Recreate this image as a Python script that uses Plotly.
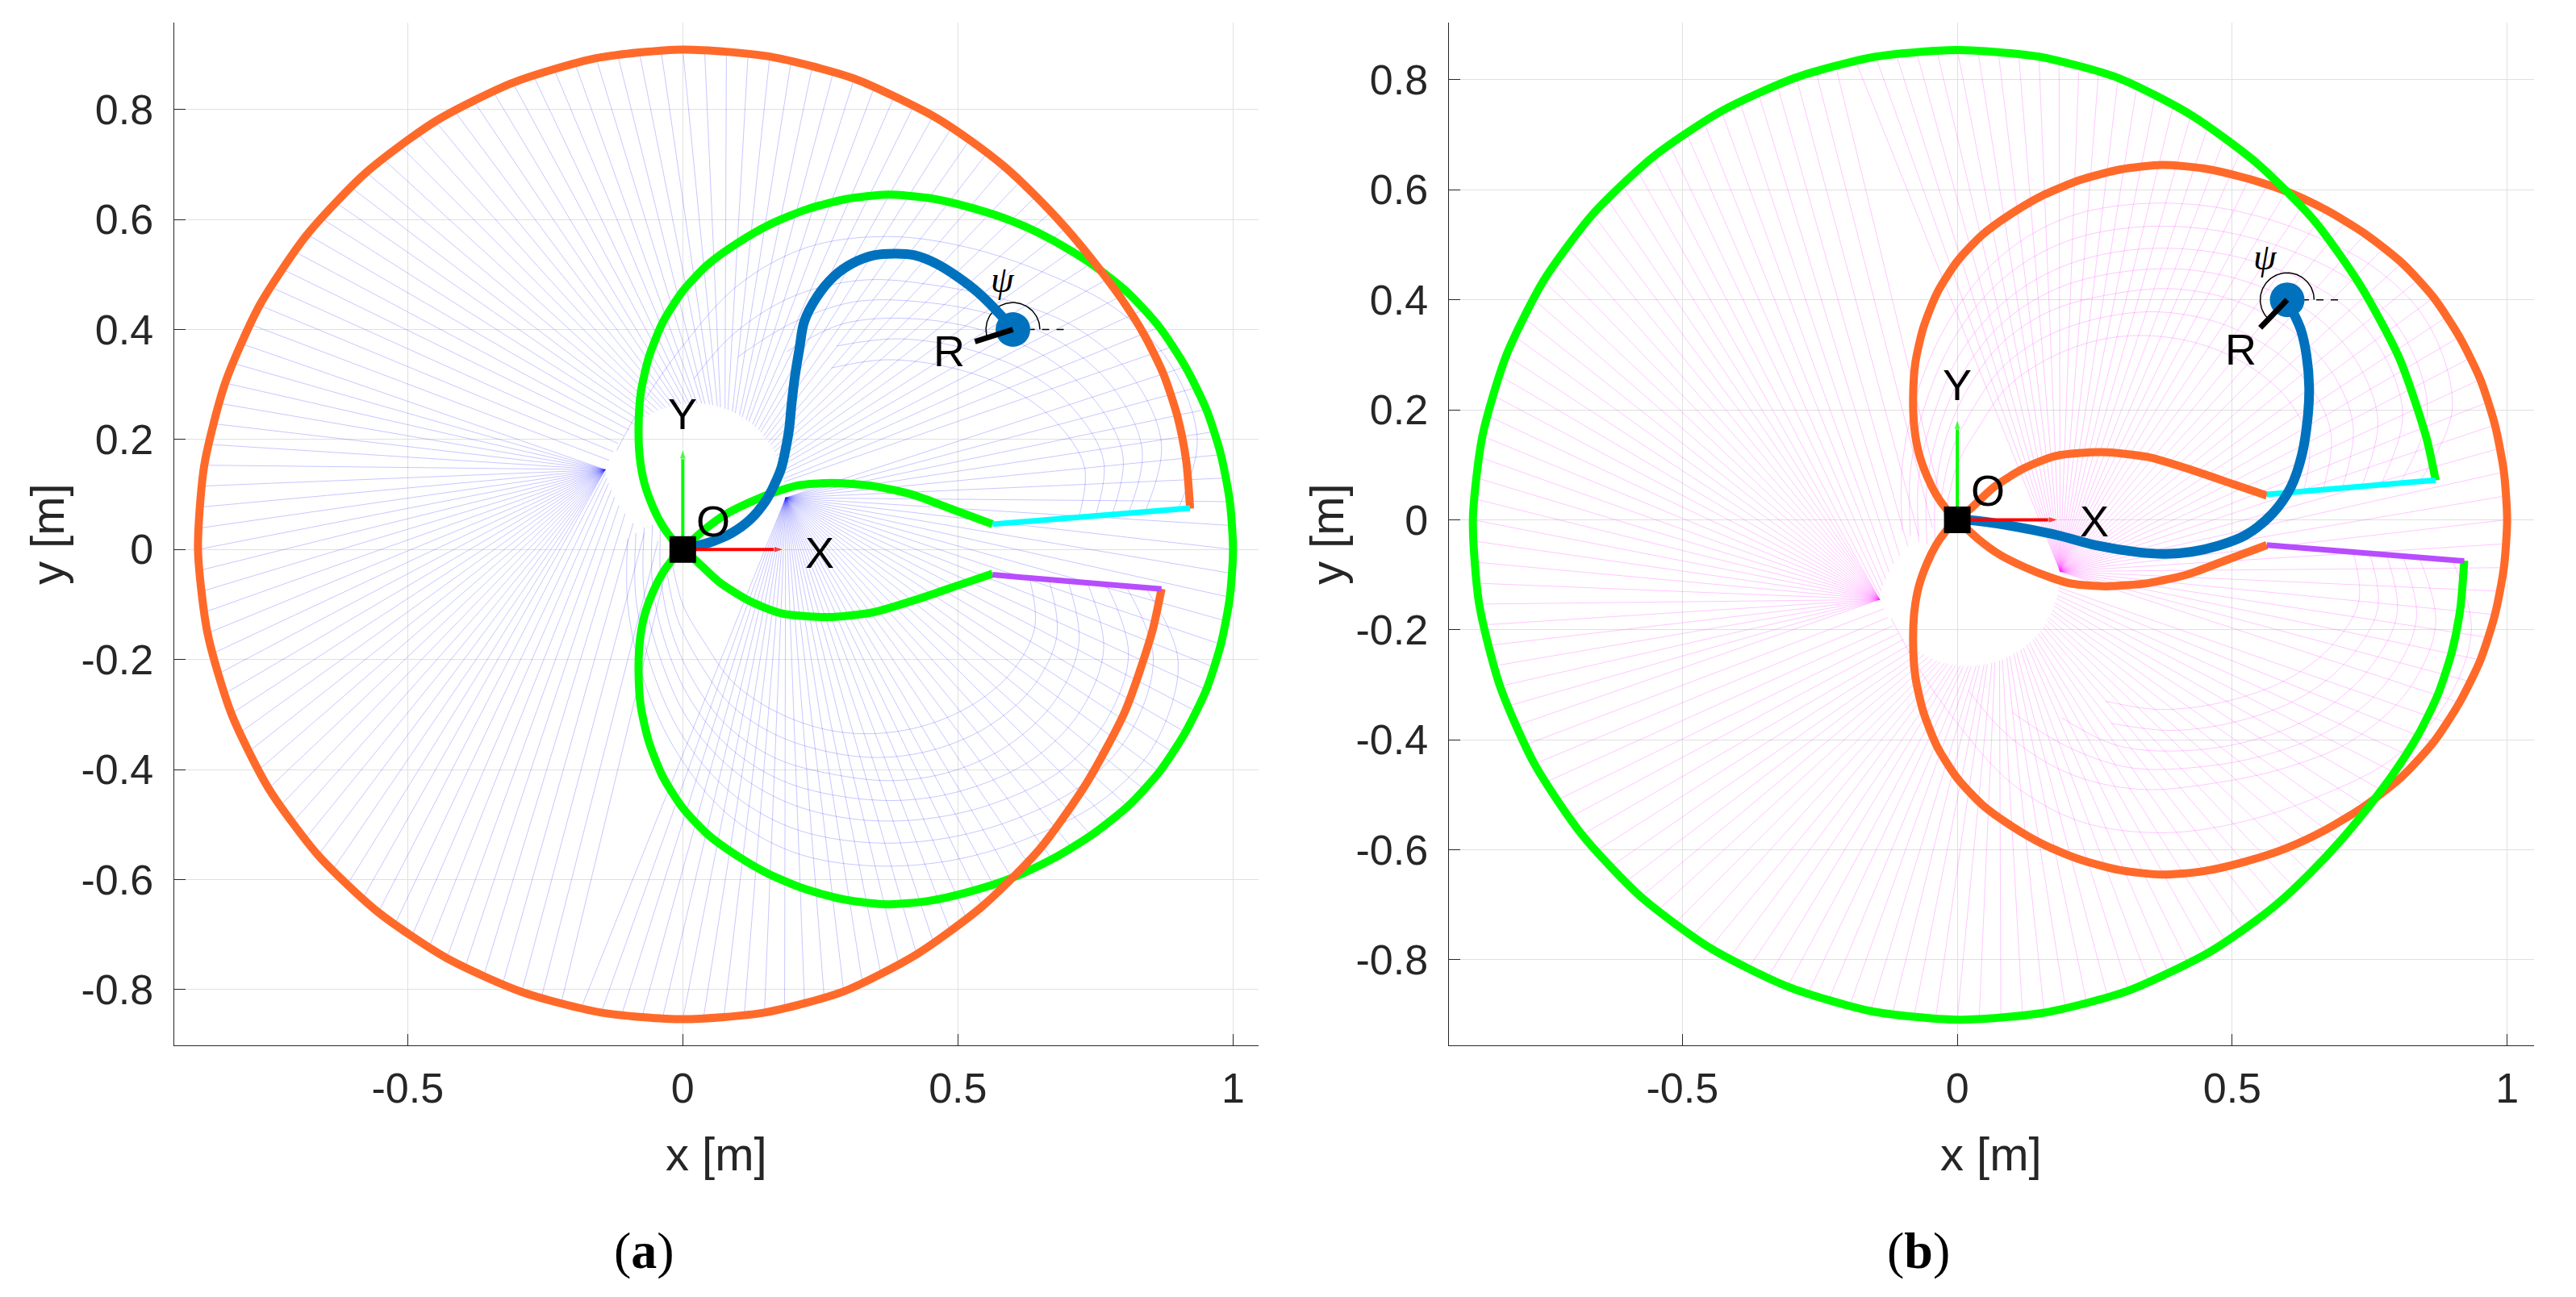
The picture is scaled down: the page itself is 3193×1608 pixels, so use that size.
import numpy as np
import plotly.graph_objects as go

W, H = 3193, 1608

# ---------------- panel (a): values ----------------
# outer (orange) boundary as read in polar form about the origin: angle [deg] and radius [m]
orange_a_deg = [4.6, 10, 15, 20, 25, 30, 35, 40, 45, 50, 55, 60, 70, 80, 90, 100, 110, 120, 130, 140,
                150, 160, 170, 180, 190, 200, 210, 220, 230, 240, 250, 260, 270, 280, 290, 300, 310, 320,
                330, 340, 350, 355.3]
orange_a_r = [.925, .929, .931, .930, .925, .918, .912, .909, .908, .909, .909, .910, .911, .910, .909,
              .907, .903, .899, .895, .891, .888, .885, .883, .881, .877, .873, .869, .865, .861, .858,
              .856, .855, .854, .855, .855, .850, .847, .847, .848, .856, .866, .873]

# green boundary: upper lobe (cyan junction -> origin), big loop (polar about origin), lower lobe
lobe_up_x = [0.563, 0.49, 0.42, 0.348, 0.27, 0.207, 0.167, 0.122, 0.078, 0.038, 0.0]
lobe_up_y = [0.046, 0.073, 0.099, 0.115, 0.121, 0.116, 0.104, 0.086, 0.064, 0.035, 0.0]
loop_deg = [-135, -130, -125, -120, -115, -110, -105, -100, -95, -90, -85, -80, -75, -70, -65, -60, -55,
            -50, -45, -40, -35, -30, -25, -20, -15, -10, -5, 0, 5, 10, 15, 20, 25, 30, 35, 40, 45, 50,
            55, 60, 65, 70, 75, 80, 85, 90, 95, 100, 105, 110, 115, 120, 125, 130, 135]
loop_r = [.03, .06, .095, .14, .185, .235, .295, .355, .415, .47, .52, .565, .612, .658, .703, .745, .78,
          .812, .845, .876, .906, .934, .956, .972, .985, .993, .998, 1.0, .998, .993, .985, .972, .956,
          .934, .906, .876, .845, .812, .78, .745, .703, .658, .612, .565, .52, .47, .415, .355, .295,
          .235, .185, .14, .095, .06, .03]
lobe_dn_x = [0.0, 0.024, 0.066, 0.122, 0.179, 0.263, 0.347, 0.431, 0.504, 0.563]
lobe_dn_y = [0.0, -0.020, -0.059, -0.094, -0.116, -0.123, -0.114, -0.089, -0.064, -0.044]

cyan_a_x = [0.563, 0.922]
cyan_a_y = [0.046, 0.075]
purple_a_x = [0.563, 0.870]
purple_a_y = [-0.046, -0.072]

# robot backbones
robot_a_x = [0.0, 0.021, 0.055, 0.089, 0.122, 0.151, 0.167, 0.179, 0.187, 0.193, 0.198, 0.204, 0.212,
             0.221, 0.245, 0.274, 0.308, 0.348, 0.387, 0.421, 0.460, 0.499, 0.538, 0.577, 0.600]
robot_a_y = [0.0, 0.005, 0.015, 0.030, 0.054, 0.089, 0.119, 0.148, 0.183, 0.217, 0.267, 0.316, 0.365,
             0.415, 0.461, 0.496, 0.520, 0.535, 0.538, 0.535, 0.520, 0.496, 0.466, 0.427, 0.400]
robot_b_x = [0.0, 0.025, 0.109, 0.182, 0.255, 0.329, 0.378, 0.427, 0.475, 0.524, 0.573, 0.607, 0.627,
             0.637, 0.640, 0.635, 0.625, 0.612, 0.600]
robot_b_y = [0.0, -0.001, -0.013, -0.028, -0.047, -0.059, -0.062, -0.058, -0.047, -0.028, 0.011, 0.060,
             0.119, 0.183, 0.24, 0.30, 0.345, 0.375, 0.400]

tip_xy = [0.6, 0.4]
r_end_a = [0.531, 0.378]
r_end_b = [0.551, 0.349]
psi_a_deg = 197.6
psi_b_deg = 226.0

# faint fan of straight rays (panel a), grouped by where they converge; each ends on the outer boundary
right_cusp = [0.187, 0.094]
ray_right_deg = [-45, -42.5, -40, -37.5, -35, -32.5, -30, -27.5, -25, -22.5, -20, -17.5, -15, -12.5, -10,
                 -7.5, -5, -2.5, 0, 2.5, 5, 7.5, 10, 12.5, 15, 17.5, 20,
                 257.5, 260, 262.5, 265, 267.5, 270, 272.5, 275, 277.5, 280, 282.5, 285, 287.5, 290,
                 292.5, 295, 297.5, 300, 302.5, 305, 307.5, 310, 312.5]
left_cusp = [-0.141, 0.145]
ray_left_deg = [155, 157.5, 160, 162.5, 165, 167.5, 170, 172.5, 175, 177.5, 180, 182.5, 185, 187.5, 190,
                192.5, 195, 197.5, 200, 202.5, 205, 207.5, 210, 212.5, 215, 217.5, 220, 222.5, 225, 227.5]
ray_low_deg = [230, 232.5, 235, 237.5, 240, 242.5, 245, 247.5, 250, 252.5, 255]
ray_low_inner_x = [-0.14, -0.138, -0.135, -0.13, -0.124, -0.116, -0.105, -0.09, -0.07, -0.045, -0.02]
ray_low_inner_y = [0.14, 0.13, 0.12, 0.108, 0.095, 0.08, 0.065, 0.048, 0.03, 0.015, 0.005]
hole_center = [0.02, 0.10]
hole_radius = 0.166
ray_top_deg = [22.5, 25, 27.5, 30, 32.5, 35, 37.5, 40, 42.5, 45, 47.5, 50, 52.5, 55, 57.5, 60, 62.5, 65,
               67.5, 70, 72.5, 75, 77.5, 80, 82.5, 85, 87.5, 90, 92.5, 95, 97.5, 100, 102.5, 105, 107.5,
               110, 112.5, 115, 117.5, 120, 122.5, 125, 127.5, 130, 132.5, 135, 137.5, 140, 142.5, 145,
               147.5, 150, 152.5]
ray_top_contact_deg = [8, 10, 13, 15, 18, 20, 23, 25, 28, 30, 33, 35, 38, 40, 43, 45, 48, 50, 53, 55, 58,
                       60, 63, 65, 68, 70, 73, 75, 78, 80, 83, 85, 88, 90, 93, 95, 98, 100, 103, 105, 108,
                       110, 113, 116, 119, 122, 126, 130, 135, 140, 146, 152, 158]

# faint nested arcs (panel a)
arc_a_curves = [
    ([0.90, 0.935, 0.885, 0.788, 0.665, 0.519, 0.372, 0.225, 0.10, 0.0, -0.07, -0.12],
     [0.073, 0.20, 0.339, 0.437, 0.50, 0.549, 0.569, 0.549, 0.48, 0.37, 0.27, 0.18]),
    ([0.84, 0.87, 0.82, 0.72, 0.60, 0.46, 0.33, 0.20, 0.09, 0.02],
     [0.068, 0.19, 0.31, 0.40, 0.45, 0.48, 0.49, 0.46, 0.39, 0.31]),
    ([0.81, 0.835, 0.785, 0.69, 0.57, 0.435, 0.31, 0.195, 0.1],
     [0.066, 0.18, 0.29, 0.375, 0.425, 0.45, 0.45, 0.41, 0.35]),
    ([0.78, 0.80, 0.75, 0.66, 0.54, 0.41, 0.29, 0.19],
     [0.063, 0.17, 0.27, 0.35, 0.40, 0.42, 0.41, 0.36]),
    ([0.75, 0.765, 0.715, 0.63, 0.515, 0.39, 0.28],
     [0.061, 0.16, 0.25, 0.32, 0.365, 0.383, 0.37]),
    ([0.72, 0.73, 0.68, 0.60, 0.49, 0.37, 0.27],
     [0.059, 0.15, 0.23, 0.29, 0.33, 0.345, 0.33]),
    ([0.84, 0.90, 0.86, 0.77, 0.64, 0.49, 0.34, 0.20, 0.08, -0.01, -0.07, -0.10, -0.10],
     [-0.068, -0.20, -0.35, -0.45, -0.52, -0.565, -0.575, -0.55, -0.48, -0.37, -0.24, -0.10, 0.02]),
    ([0.805, 0.855, 0.815, 0.73, 0.605, 0.465, 0.325, 0.195, 0.085, 0.0, -0.055, -0.085, -0.085],
     [-0.066, -0.195, -0.33, -0.425, -0.49, -0.527, -0.532, -0.505, -0.44, -0.34, -0.22, -0.09, 0.03]),
    ([0.77, 0.81, 0.77, 0.69, 0.57, 0.44, 0.31, 0.19, 0.09, 0.01, -0.04, -0.07, -0.07],
     [-0.063, -0.19, -0.31, -0.40, -0.46, -0.49, -0.49, -0.46, -0.40, -0.31, -0.20, -0.08, 0.04]),
    ([0.735, 0.765, 0.725, 0.645, 0.535, 0.415, 0.295, 0.18, 0.085, 0.015, -0.03, -0.055, -0.055],
     [-0.06, -0.18, -0.29, -0.375, -0.43, -0.455, -0.45, -0.42, -0.36, -0.275, -0.175, -0.065, 0.045]),
    ([0.70, 0.72, 0.68, 0.60, 0.50, 0.39, 0.28, 0.17, 0.08, 0.02, -0.02, -0.04, -0.04],
     [-0.057, -0.17, -0.27, -0.35, -0.40, -0.42, -0.41, -0.38, -0.32, -0.24, -0.15, -0.05, 0.05]),
    ([0.665, 0.68, 0.64, 0.565, 0.47, 0.365, 0.265, 0.165, 0.085, 0.03, -0.01, -0.03],
     [-0.054, -0.155, -0.245, -0.315, -0.36, -0.378, -0.368, -0.335, -0.28, -0.205, -0.125, -0.035]),
    ([0.63, 0.64, 0.60, 0.53, 0.44, 0.34, 0.25, 0.16, 0.09, 0.04, 0.0, -0.02],
     [-0.051, -0.14, -0.22, -0.28, -0.32, -0.335, -0.325, -0.29, -0.24, -0.17, -0.10, -0.02]),
]

axis_len = [0.184, 0.183]          # X and Y frame arrows
xticks = [-0.5, 0, 0.5, 1]
xtick_text = ['-0.5', '0', '0.5', '1']
yticks = [-0.8, -0.6, -0.4, -0.2, 0, 0.2, 0.4, 0.6, 0.8]
ytick_text = ['-0.8', '-0.6', '-0.4', '-0.2', '0', '0.2', '0.4', '0.6', '0.8']

ORANGE = '#FF6A2A'
GREEN = '#00FF00'
CYAN = '#00FFFF'
PURPLE = '#B84CFF'
BLUE = '#0072BD'

# ---------------- geometry helpers ----------------
o_t = np.deg2rad(orange_a_deg)
orange_x = list(np.array(orange_a_r) * np.cos(o_t))
orange_y = list(np.array(orange_a_r) * np.sin(o_t))
l_t = np.deg2rad(loop_deg)
green_x = lobe_up_x + list(np.array(loop_r) * np.cos(l_t)) + lobe_dn_x
green_y = lobe_up_y + list(np.array(loop_r) * np.sin(l_t)) + lobe_dn_y


def outer_r(a):
    """radius of the outer boundary (larger of orange circle and green loop) at angle a [deg]"""
    a360 = a % 360
    r_o = np.interp(a360, orange_a_deg, orange_a_r, left=orange_a_r[0], right=orange_a_r[-1])
    a180 = ((a + 180) % 360) - 180
    r_g = np.interp(a180, loop_deg, loop_r) if -135 <= a180 <= 135 else 0
    if a360 < orange_a_deg[0] or a360 > orange_a_deg[-1]:
        return r_g
    return max(r_o, r_g)


def fan(sign):
    xs, ys = [], []

    def seg(p, a):
        r = outer_r(a)
        t = np.deg2rad(a)
        xs.extend([p[0], r * np.cos(t), None])
        ys.extend([sign * p[1], sign * r * np.sin(t), None])

    for a in ray_right_deg:
        seg(right_cusp, a)
    for a in ray_left_deg:
        seg(left_cusp, a)
    for a, ix, iy in zip(ray_low_deg, ray_low_inner_x, ray_low_inner_y):
        seg([ix, iy], a)
    for a, c in zip(ray_top_deg, ray_top_contact_deg):
        ct = np.deg2rad(c)
        seg([hole_center[0] + hole_radius * np.cos(ct), hole_center[1] + hole_radius * np.sin(ct)], a)
    return xs, ys


def neg(v):
    return [None if a is None else -a for a in v]


fig = go.Figure()


def add_panel(xr, yr, sign, fan_color, lobe_color, big_color, top_conn, bot_conn,
              robot_x, robot_y, r_end, psi_deg):
    fx, fy = fan(sign)
    fig.add_trace(go.Scatter(x=fx, y=fy, mode='lines', line=dict(color=fan_color, width=1),
                             xaxis=xr, yaxis=yr, hoverinfo='skip'))
    for cx, cy in arc_a_curves:
        fig.add_trace(go.Scatter(x=cx, y=[sign * v for v in cy], mode='lines',
                                 line=dict(color=fan_color, width=1, shape='spline'),
                                 xaxis=xr, yaxis=yr, hoverinfo='skip'))
    fig.add_trace(go.Scatter(x=green_x, y=[sign * v for v in green_y], mode='lines',
                             line=dict(color=lobe_color, width=10, shape='spline', smoothing=0.7),
                             xaxis=xr, yaxis=yr))
    fig.add_trace(go.Scatter(x=orange_x, y=[sign * v for v in orange_y], mode='lines',
                             line=dict(color=big_color, width=10, shape='spline', smoothing=0.7),
                             xaxis=xr, yaxis=yr))
    fig.add_trace(go.Scatter(x=top_conn[0], y=top_conn[1], mode='lines',
                             line=dict(color=CYAN, width=7), xaxis=xr, yaxis=yr))
    fig.add_trace(go.Scatter(x=bot_conn[0], y=bot_conn[1], mode='lines',
                             line=dict(color=PURPLE, width=7), xaxis=xr, yaxis=yr))
    # psi reference line and arc
    fig.add_trace(go.Scatter(x=[tip_xy[0], tip_xy[0] + 0.1], y=[tip_xy[1], tip_xy[1]], mode='lines',
                             line=dict(color='black', width=1.5, dash='dash'), xaxis=xr, yaxis=yr))
    t = np.linspace(0, np.deg2rad(psi_deg), 80)
    fig.add_trace(go.Scatter(x=tip_xy[0] + 0.049 * np.cos(t), y=tip_xy[1] + 0.049 * np.sin(t),
                             mode='lines', line=dict(color='black', width=1.5), xaxis=xr, yaxis=yr))
    # robot
    fig.add_trace(go.Scatter(x=robot_x, y=robot_y, mode='lines',
                             line=dict(color=BLUE, width=12, shape='spline'), xaxis=xr, yaxis=yr))
    fig.add_trace(go.Scatter(x=[tip_xy[0]], y=[tip_xy[1]], mode='markers',
                             marker=dict(color=BLUE, size=43, line=dict(width=0)), xaxis=xr, yaxis=yr))
    fig.add_trace(go.Scatter(x=[tip_xy[0], r_end[0]], y=[tip_xy[1], r_end[1]], mode='lines',
                             line=dict(color='black', width=7), xaxis=xr, yaxis=yr))
    # frame arrows
    fig.add_trace(go.Scatter(x=[0, axis_len[0]], y=[0, 0], mode='lines+markers',
                             line=dict(color='#FF0000', width=4),
                             marker=dict(symbol='arrow', size=[0, 13], angleref='previous', color='#FF0000'),
                             xaxis=xr, yaxis=yr))
    fig.add_trace(go.Scatter(x=[0, 0], y=[0, axis_len[1]], mode='lines+markers',
                             line=dict(color='#00FF00', width=4),
                             marker=dict(symbol='arrow', size=[0, 13], angleref='previous', color='#00FF00'),
                             xaxis=xr, yaxis=yr))
    fig.add_trace(go.Scatter(x=[0], y=[0], mode='markers',
                             marker=dict(symbol='square', color='black', size=33, line=dict(width=0)),
                             xaxis=xr, yaxis=yr))


add_panel('x', 'y', 1, 'rgba(40,40,255,0.26)', GREEN, ORANGE,
          (cyan_a_x, cyan_a_y), (purple_a_x, purple_a_y),
          robot_a_x, robot_a_y, r_end_a, psi_a_deg)
# panel (b): same workspace mirrored about the x axis, colours of the two boundaries swapped
add_panel('x2', 'y2', -1, 'rgba(255,40,255,0.26)', ORANGE, GREEN,
          (purple_a_x, neg(purple_a_y)), (cyan_a_x, neg(cyan_a_y)),
          robot_b_x, robot_b_y, r_end_b, psi_b_deg)

SANS = 'Liberation Sans, Arial, sans-serif'
SERIF = 'Liberation Serif, Times New Roman, serif'

annos = []
label_pos = {
    'a': dict(O=(0.055, 0.052), X=(0.249, -0.005), Y=(-0.001, 0.247), R=(0.484, 0.361), psi=(0.581, 0.491)),
    'b': dict(O=(0.055, 0.053), X=(0.250, -0.003), Y=(0.0, 0.246), R=(0.515, 0.310), psi=(0.560, 0.478)),
}
for key, xr, yr in [('a', 'x', 'y'), ('b', 'x2', 'y2')]:
    p = label_pos[key]
    for name in ['O', 'X', 'Y', 'R']:
        annos.append(dict(x=p[name][0], y=p[name][1], xref=xr, yref=yr, text=name, showarrow=False,
                          font=dict(family=SANS, size=54, color='black'), xanchor='center', yanchor='middle'))
    annos.append(dict(x=p['psi'][0], y=p['psi'][1], xref=xr, yref=yr, text='<i>ψ</i>', showarrow=False,
                      font=dict(family=SERIF, size=46, color='black'), xanchor='center', yanchor='middle'))

for xc in [887.9, 2468.4]:
    annos.append(dict(x=xc / W, y=1 - 1430 / H, xref='paper', yref='paper', text='x [m]', showarrow=False,
                      font=dict(family=SANS, size=58, color='#262626'), xanchor='center', yanchor='middle'))
for xc in [58, 1644]:
    annos.append(dict(x=xc / W, y=1 - 662 / H, xref='paper', yref='paper', text='y [m]', showarrow=False,
                      textangle=-90, font=dict(family=SANS, size=58, color='#262626'),
                      xanchor='center', yanchor='middle'))
for xc, lab in [(799, '(<b>a</b>)'), (2378, '(<b>b</b>)')]:
    annos.append(dict(x=xc / W, y=1 - 1550 / H, xref='paper', yref='paper', text=lab, showarrow=False,
                      font=dict(family=SERIF, size=64, color='black'), xanchor='center', yanchor='middle'))

common = dict(showgrid=True, gridcolor='#e0e0e0', gridwidth=1, zeroline=False, showline=True,
              linecolor='#262626', linewidth=1.3, ticks='inside', ticklen=14, tickwidth=1.3,
              tickcolor='#262626', tickfont=dict(family=SANS, size=52, color='#262626'), mirror=False)
ydom = [1 - 1296.3 / H, 1 - 28 / H]
fig.update_layout(
    width=W, height=H, margin=dict(l=0, r=0, t=0, b=0), paper_bgcolor='white', plot_bgcolor='white',
    showlegend=False, annotations=annos,
    xaxis=dict(domain=[215.7 / W, 1560 / W], range=[-0.9246, 1.0464], tickvals=xticks, ticktext=xtick_text,
               anchor='y', ticklabelstandoff=7, **common),
    yaxis=dict(domain=ydom, range=[-0.902, 0.958], tickvals=yticks, ticktext=ytick_text,
               anchor='x', ticklabelstandoff=14, **common),
    xaxis2=dict(domain=[1795.7 / W, 3141 / W], range=[-0.925, 1.049], tickvals=xticks, ticktext=xtick_text,
                anchor='y2', ticklabelstandoff=7, **common),
    yaxis2=dict(domain=ydom, range=[-0.956, 0.904], tickvals=yticks, ticktext=ytick_text,
                anchor='x2', ticklabelstandoff=14, **common),
)

fig.write_html("out.html", config={'displayModeBar': False},
               post_script="document.body.style.margin='0';")
